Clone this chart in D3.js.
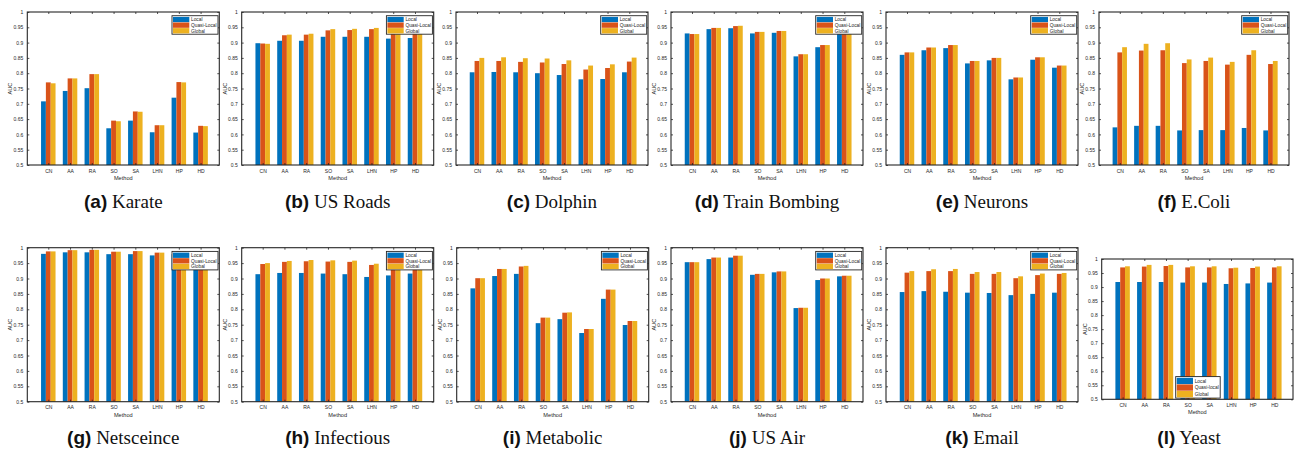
<!DOCTYPE html>
<html><head><meta charset="utf-8">
<script src="https://cdn.jsdelivr.net/npm/d3@7"></script>
<style>body{margin:0;background:#fff}</style>
</head><body><svg id="c" width="1304" height="449"></svg>
<script>
const categories = ["CN","AA","RA","SO","SA","LHN","HP","HD"];
const seriesNames = ["Local","Quasi-Local","Global"];
const seriesNamesYeast = ["Local","Quasi-local","Global"];
const yTicks = [0.5,0.55,0.6,0.65,0.7,0.75,0.8,0.85,0.9,0.95,1];

// [Local, Quasi-Local, Global] per dataset
const karate = [
  [0.708,0.742,0.751,0.620,0.645,0.607,0.720,0.606],
  [0.770,0.783,0.797,0.645,0.675,0.630,0.771,0.628],
  [0.767,0.783,0.797,0.643,0.674,0.630,0.770,0.627]];
const usRoads = [
  [0.898,0.906,0.906,0.919,0.919,0.919,0.913,0.915],
  [0.897,0.924,0.926,0.940,0.941,0.944,0.940,0.938],
  [0.896,0.926,0.929,0.944,0.945,0.948,0.944,0.942]];
const dolphin = [
  [0.803,0.804,0.803,0.800,0.794,0.780,0.781,0.803],
  [0.840,0.840,0.837,0.835,0.830,0.812,0.817,0.838],
  [0.850,0.852,0.849,0.848,0.842,0.825,0.829,0.851]];
const trainBombing = [
  [0.930,0.944,0.947,0.930,0.932,0.855,0.885,0.936],
  [0.928,0.948,0.954,0.935,0.938,0.862,0.892,0.942],
  [0.928,0.948,0.955,0.935,0.938,0.862,0.892,0.942]];
const neurons = [
  [0.860,0.875,0.882,0.832,0.842,0.780,0.844,0.818],
  [0.868,0.884,0.892,0.840,0.850,0.786,0.852,0.825],
  [0.868,0.884,0.892,0.840,0.850,0.786,0.852,0.825]];
const eColi = [
  [0.623,0.628,0.628,0.613,0.614,0.614,0.621,0.613],
  [0.868,0.874,0.875,0.833,0.840,0.828,0.860,0.830],
  [0.885,0.896,0.898,0.845,0.851,0.837,0.875,0.840]];
const netsceince = [
  [0.980,0.985,0.985,0.979,0.979,0.975,0.979,0.979],
  [0.988,0.992,0.993,0.987,0.989,0.984,0.989,0.986],
  [0.988,0.992,0.993,0.987,0.989,0.984,0.989,0.986]];
const infectious = [
  [0.914,0.918,0.918,0.916,0.914,0.905,0.910,0.916],
  [0.947,0.954,0.956,0.955,0.954,0.944,0.950,0.954],
  [0.950,0.957,0.960,0.959,0.958,0.948,0.954,0.958]];
const metabolic = [
  [0.868,0.908,0.915,0.755,0.768,0.723,0.834,0.749],
  [0.901,0.931,0.939,0.773,0.789,0.736,0.864,0.762],
  [0.901,0.931,0.941,0.773,0.790,0.736,0.864,0.762]];
const usAir = [
  [0.953,0.963,0.968,0.912,0.920,0.804,0.895,0.907],
  [0.953,0.968,0.974,0.915,0.923,0.805,0.900,0.909],
  [0.953,0.968,0.974,0.915,0.923,0.805,0.900,0.909]];
const email = [
  [0.856,0.859,0.857,0.854,0.853,0.846,0.850,0.854],
  [0.919,0.924,0.924,0.915,0.915,0.901,0.911,0.915],
  [0.924,0.930,0.931,0.921,0.921,0.907,0.916,0.918]];
const yeast = [
  [0.918,0.918,0.918,0.916,0.916,0.911,0.913,0.916],
  [0.970,0.973,0.975,0.970,0.970,0.967,0.968,0.970],
  [0.974,0.979,0.979,0.974,0.974,0.969,0.973,0.974]];

const colors = ["#0072BD","#D95319","#EDB120"];

const panels = [
  {tag:"(a)", name:"Karate", data:karate, x:27.3, y:12, w:192, h:153},
  {tag:"(b)", name:"US Roads", data:usRoads, x:241.7, y:12, w:192, h:153},
  {tag:"(c)", name:"Dolphin", data:dolphin, x:456, y:12, w:192, h:153},
  {tag:"(d)", name:"Train Bombing", data:trainBombing, x:671, y:12, w:192, h:153},
  {tag:"(e)", name:"Neurons", data:neurons, x:886, y:12, w:192, h:153},
  {tag:"(f)", name:"E.Coli", data:eColi, x:1099, y:12, w:190, h:153},
  {tag:"(g)", name:"Netsceince", data:netsceince, x:27.3, y:247.7, w:192, h:154},
  {tag:"(h)", name:"Infectious", data:infectious, x:241.7, y:247.7, w:192, h:154},
  {tag:"(i)", name:"Metabolic", data:metabolic, x:456.7, y:247.7, w:192, h:154},
  {tag:"(j)", name:"US Air", data:usAir, x:671, y:247.7, w:192, h:154},
  {tag:"(k)", name:"Email", data:email, x:886, y:247.7, w:192, h:154},
  {tag:"(l)", name:"Yeast", data:yeast, x:1101.7, y:259, w:191.3, h:140.3, legendBottom:true, names:seriesNamesYeast}
];

const svg = d3.select("#c");
const fmt = d => String(+d.toFixed(2));

panels.forEach((p, pi) => {
  const g = svg.append("g").attr("transform", `translate(${p.x},${p.y})`);
  const x = d3.scaleLinear().domain([0.035, 8.86]).range([0, p.w]);
  const y = d3.scaleLinear().domain([0.5, 1]).range([p.h, 0]);
  const unit = x(1) - x(0);
  const bw = unit * 0.222;

  // bars
  p.data.forEach((vals, si) => {
    g.append("g").selectAll("rect").data(vals).join("rect")
      .attr("x", (d, i) => x(i + 1) + (si - 1) * bw - bw / 2)
      .attr("width", bw)
      .attr("y", d => y(d))
      .attr("height", d => y(0.5) - y(d))
      .attr("fill", colors[si]);
  });

  const tickFont = "Liberation Sans, Arial, sans-serif";
  // axes
  const yAxisL = d3.axisLeft(y).tickValues(yTicks).tickFormat(fmt).tickSizeInner(-2).tickSizeOuter(0).tickPadding(4);
  const yAxisR = d3.axisRight(y).tickValues(yTicks).tickFormat("").tickSizeInner(-2).tickSizeOuter(0);
  const xAxisB = d3.axisBottom(x).tickValues(d3.range(1, 9)).tickFormat(i => categories[i - 1]).tickSizeInner(-2).tickSizeOuter(0).tickPadding(4);
  const xAxisT = d3.axisTop(x).tickValues(d3.range(1, 9)).tickFormat("").tickSizeInner(-2).tickSizeOuter(0);

  const styleAxis = a => {
    a.selectAll("path").remove();
    a.selectAll("line").attr("stroke", "#262626").attr("stroke-width", 0.8);
    a.selectAll("text").attr("font-family", tickFont).attr("font-size", 5).attr("fill", "#262626");
  };
  g.append("g").call(yAxisL).call(styleAxis);
  g.append("g").attr("transform", `translate(${p.w},0)`).call(yAxisR).call(styleAxis);
  g.append("g").attr("transform", `translate(0,${p.h})`).call(xAxisB).call(styleAxis);
  g.append("g").call(xAxisT).call(styleAxis);

  g.append("rect").attr("x", 0).attr("y", 0).attr("width", p.w).attr("height", p.h)
    .attr("fill", "none").attr("stroke", "#262626").attr("stroke-width", 1.1);

  // axis labels
  g.append("text").attr("x", p.w / 2).attr("y", p.h + 15)
    .attr("text-anchor", "middle").attr("font-family", tickFont).attr("font-size", 5.6).attr("fill", "#262626")
    .text("Method");
  g.append("text").attr("transform", `translate(${-15},${p.h / 2}) rotate(-90)`)
    .attr("text-anchor", "middle").attr("font-family", tickFont).attr("font-size", 5.6).attr("fill", "#262626")
    .text("AUC");

  // legend
  const names = p.names || seriesNames;
  let lx, ly, lw, lh, rowH;
  if (p.legendBottom) {
    lw = 44.5; lh = 21.5; rowH = 6.6;
    lx = p.w / 2 - 22 + 0.5 - 22 + 18; ly = p.h - lh - 1.2;
    lx = 1175.7 - p.x;
  } else {
    lw = 46; lh = 18.5; rowH = 5.6;
    lx = p.w - lw - 1.3; ly = 3.7;
  }
  const lg = g.append("g").attr("transform", `translate(${lx},${ly})`);
  lg.append("rect").attr("width", lw).attr("height", lh).attr("fill", "#fff")
    .attr("stroke", "#262626").attr("stroke-width", 0.9);
  names.forEach((n, i) => {
    lg.append("rect").attr("x", 1).attr("y", 1.2 + i * rowH).attr("width", 16.3).attr("height", rowH - 0.3)
      .attr("fill", colors[i]);
    lg.append("text").attr("x", 19).attr("y", 1.2 + i * rowH + rowH / 2 + 1.7)
      .attr("font-family", tickFont).attr("font-size", 4.8).attr("fill", "#262626").text(n);
  });

  // title
  const ty = pi < 6 ? 208 : 444;
  const tx = p.legendBottom ? 1189 : p.x + p.w / 2;
  const t = svg.append("text").attr("x", tx).attr("y", ty).attr("text-anchor", "middle").attr("font-size", 19).attr("fill", "#111");
  t.append("tspan").attr("font-family", "Liberation Sans, Arial, sans-serif").attr("font-weight", "bold").text(p.tag);
  t.append("tspan").attr("font-family", "Liberation Serif, Times New Roman, serif").text(" " + p.name);
});
</script>
</body></html>
